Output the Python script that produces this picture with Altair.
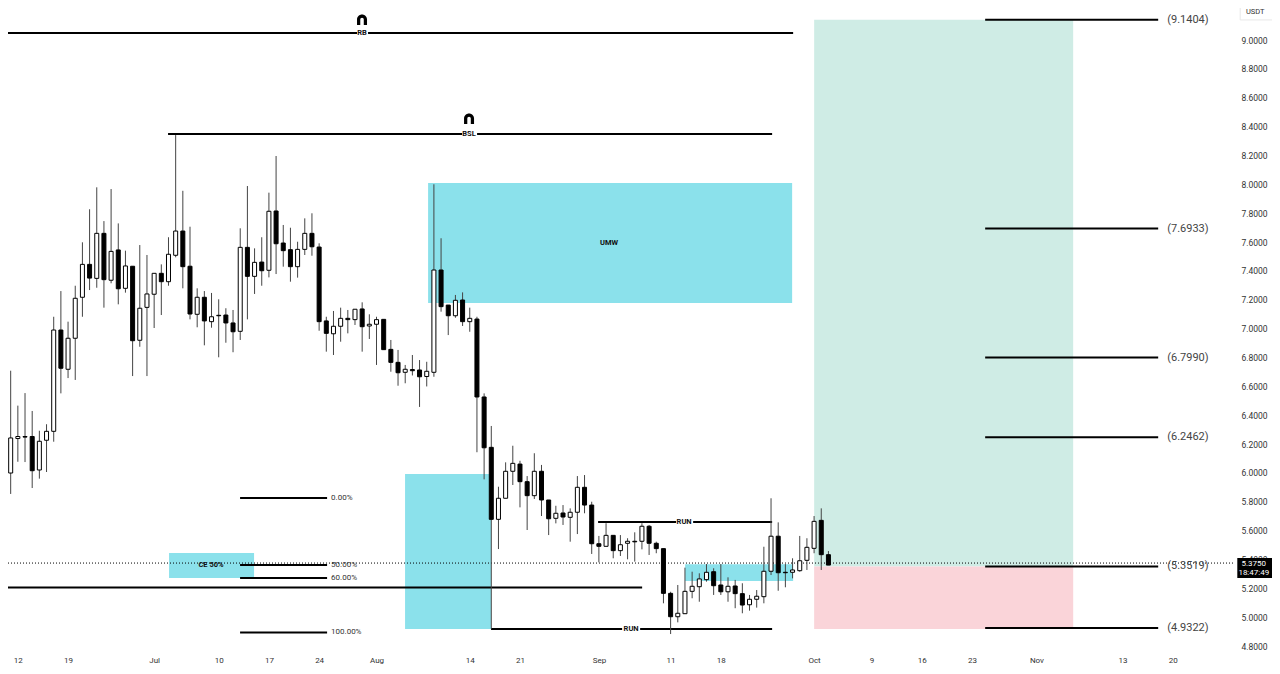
import altair as alt
import pandas as pd

opens = [7.441,5.999,6.238,6.252,6.252,6.020,6.226,6.288,6.990,6.718,6.933,7.217,7.445,7.348,7.660,7.335,7.545,7.279,7.432,6.919,7.147,7.238,7.383,7.325,7.508,7.676,7.432,7.099,7.217,7.048,7.092,7.094,7.039,6.981,7.563,7.362,7.461,7.404,7.815,7.593,7.547,7.429,7.549,7.660,7.565,7.053,6.964,7.016,7.071,7.062,7.136,7.018,7.030,7.064,6.856,6.766,6.697,6.716,6.713,6.668,6.697,7.406,7.163,7.089,7.198,7.048,7.066,6.526,6.177,5.678,5.824,6.011,6.061,5.939,5.842,6.011,5.812,5.685,5.722,5.692,5.727,5.900,5.777,5.509,5.491,5.567,5.461,5.512,5.526,5.526,5.630,5.512,5.475,5.165,5.003,5.024,5.179,5.211,5.260,5.315,5.223,5.176,5.216,5.163,5.086,5.124,5.142,5.318,5.561,5.311,5.311,5.322,5.394,5.477,5.671,5.433]
closes = [5.999,6.242,6.252,6.248,6.015,6.219,6.288,6.990,6.725,6.933,7.210,7.445,7.350,7.660,7.339,7.535,7.276,7.434,6.916,7.141,7.240,7.383,7.325,7.515,7.676,7.429,7.101,7.217,7.053,7.082,7.089,7.039,6.978,7.563,7.362,7.459,7.401,7.813,7.588,7.540,7.429,7.549,7.660,7.567,7.048,6.967,7.016,7.071,7.062,7.134,7.013,7.030,7.062,6.854,6.766,6.694,6.718,6.708,6.666,6.704,7.406,7.152,7.089,7.196,7.048,7.071,6.526,6.174,5.678,5.824,6.011,6.066,5.939,5.842,6.011,5.812,5.682,5.720,5.694,5.727,5.900,5.777,5.509,5.491,5.567,5.461,5.502,5.526,5.522,5.630,5.512,5.475,5.165,5.003,5.027,5.179,5.214,5.265,5.311,5.218,5.176,5.214,5.163,5.084,5.124,5.145,5.318,5.561,5.308,5.308,5.327,5.391,5.484,5.664,5.433,5.361]
highs = [7.441,6.708,6.466,6.553,6.429,6.292,6.337,7.082,7.260,7.048,7.297,7.598,7.827,7.979,7.745,7.967,7.729,7.540,7.432,7.579,7.510,7.383,7.445,7.633,8.341,7.955,7.706,7.279,7.260,7.247,7.203,7.141,7.129,7.695,7.988,7.556,7.633,7.942,8.196,7.718,7.699,7.602,7.764,7.799,7.591,7.082,7.122,7.145,7.129,7.134,7.182,7.099,7.082,7.064,6.921,6.852,6.748,6.817,6.782,6.770,8.000,7.626,7.163,7.233,7.251,7.145,7.082,6.551,6.325,5.904,6.073,6.188,6.084,5.978,6.136,6.055,5.812,5.772,5.777,5.754,5.978,5.985,5.800,5.563,5.651,5.567,5.569,5.547,5.588,5.651,5.639,5.523,5.475,5.176,5.223,5.343,5.315,5.304,5.368,5.339,5.368,5.276,5.258,5.235,5.154,5.188,5.488,5.824,5.657,5.368,5.408,5.563,5.547,5.701,5.754,5.458]
lows = [5.396,5.854,6.077,6.075,5.895,5.960,6.006,6.216,6.551,6.657,6.644,7.082,7.267,7.283,7.145,7.314,7.168,7.249,6.671,6.874,6.671,7.004,7.094,7.297,7.494,7.279,7.064,7.009,6.884,7.006,6.801,6.902,6.836,6.921,7.064,7.240,7.297,7.355,7.378,7.429,7.325,7.353,7.510,7.505,6.985,6.840,6.817,6.909,6.967,7.025,6.840,6.928,6.748,6.854,6.701,6.604,6.621,6.675,6.457,6.599,6.666,7.117,6.955,7.075,7.018,6.978,6.143,5.955,4.920,5.472,5.824,5.916,5.761,5.604,5.819,5.701,5.569,5.650,5.639,5.523,5.576,5.720,5.438,5.380,5.491,5.408,5.424,5.401,5.385,5.470,5.431,5.443,5.096,4.883,4.964,5.024,5.131,5.107,5.246,5.154,5.154,5.107,5.062,5.027,5.045,5.066,5.096,5.292,5.183,5.207,5.269,5.315,5.327,5.443,5.327,5.361]

tick_days = ["06-12","06-19","07-01","07-10","07-17","07-24","08-01","08-14","08-21","09-01","09-11","09-18","10-01","10-09","10-16","10-23","11-01","11-13","11-20"]
price_ticks = [4.8,5.0,5.2,5.4,5.6,5.8,6.0,6.2,6.4,6.6,6.8,7.0,7.2,7.4,7.6,7.8,8.0,8.2,8.4,8.6,8.8,9.0]

# zones: first bar, last bar, top price, bottom price, colour
zone_from = [113.01,113.01,59.19,55.98,23.08,95.02]
zone_to = [149.12,149.12,109.94,67.97,34.93,110.08]
zone_top = [9.1404,5.3519,8.009,5.992,5.445,5.366]
zone_bot = [5.3519,4.918,7.177,4.918,5.272,5.251]
zone_col = ["#cfece5","#fad4d9","#8be1eb","#8be1eb","#8be1eb","#8be1eb"]

# level lines: first bar, last bar, price
seg_from = [-0.49,50.82,22.94,66.02,-0.49,82.89,96.14,67.97,88.75,32.98,32.98,32.98,32.98,136.85,136.85,136.85,136.85,136.85,136.85]
seg_to = [49.29,110.08,63.93,107.15,89.03,93.77,107.15,86.24,107.15,45.11,45.11,45.11,45.11,160.97,160.97,160.97,160.97,160.97,160.97]
seg_price = [9.048,9.048,8.348,8.348,5.206,5.659,5.659,4.918,4.918,5.826,5.362,5.272,4.894,9.1404,7.6933,6.7990,6.2462,5.3519,4.925]

# centred bold labels
tag_text = ["RB","BSL","RUN","RUN","UMW","CE 50%"]
tag_bar = [49.98,64.9,94.88,87.49,84.43,28.93]
tag_price = [9.048,8.348,5.659,4.918,7.593,5.362]

fib_text = ["0.00%","50.00%","60.00%","100.00%"]
fib_price = [5.826,5.362,5.272,4.894]
fib_bar = [45.66]*4

target_text = ["(9.1404)","(7.6933)","(6.7990)","(6.2462)","(5.3519)","(4.9322)"]
target_price = [9.1404,7.6933,6.7990,6.2462,5.3519,4.925]
target_bar = [162.23]*6

magnet_bar = [49.98,64.9]
magnet_price = [9.139,8.453]

last_price = 5.375

DAY = 86400000
T0 = int(pd.Timestamp("2023-06-10", tz="UTC").value / 1_000_000)
def ms(i):
    return T0 + i * DAY

n = len(opens)
candles = pd.DataFrame({
    "t": [ms(i) for i in range(n)],
    "open": opens, "close": closes, "high": highs, "low": lows,
    "dir": ["up" if c >= o else "down" for o, c in zip(opens, closes)],
})
zones = pd.DataFrame({"a": [ms(v) for v in zone_from], "b": [ms(v) for v in zone_to],
                      "top": zone_top, "bot": zone_bot, "col": zone_col})
segs = pd.DataFrame({"a": [ms(v) for v in seg_from], "b": [ms(v) for v in seg_to], "p": seg_price})
tags = pd.DataFrame({"t": [ms(v) for v in tag_bar], "p": tag_price, "s": tag_text})
fibs = pd.DataFrame({"t": [ms(v) for v in fib_bar], "p": fib_price, "s": fib_text})
targets = pd.DataFrame({"t": [ms(v) for v in target_bar], "p": target_price, "s": target_text})
magnets = pd.DataFrame({"t": [ms(v) for v in magnet_bar], "p": magnet_price})

FONT = "Roboto"
tick_values = [int(pd.Timestamp("2023-" + d, tz="UTC").value / 1_000_000) for d in tick_days]
xscale = alt.Scale(type="utc", domain=[ms(0.627), ms(171.4)], nice=False, padding=0)
yscale = alt.Scale(domain=[4.7447, 9.2218], nice=False, zero=False)
x_axis = alt.Axis(
    values=tick_values, domain=False, ticks=False, grid=False, labelFont=FONT, labelFontSize=8,
    labelColor="#333333", labelPadding=2, labelOverlap=False, labelFlush=False,
    labelExpr="utcFormat(datum.value,'%d')=='01' ? utcFormat(datum.value,'%b') : utcFormat(datum.value,'%-d')")
y_axis = alt.Axis(
    orient="right", values=price_ticks, format=".4f", domain=False, ticks=False, grid=False,
    labelFont=FONT, labelFontSize=8.5, labelColor="#333333", labelPadding=8)

def XT(f):
    return alt.X(f, scale=xscale, title=None, axis=x_axis)
def YQ(f):
    return alt.Y(f, scale=yscale, title=None, axis=y_axis)

zone_layer = alt.Chart(zones).mark_rect().encode(
    x=XT("a:T"), x2="b:T", y=YQ("top:Q"), y2="bot:Q",
    color=alt.Color("col:N", scale=None))
seg_layer = alt.Chart(segs).mark_rule(color="#000000", strokeWidth=2).encode(
    x=XT("a:T"), x2="b:T", y=YQ("p:Q"))
price_line = alt.Chart(pd.DataFrame({"p": [last_price]})).mark_rule(
    color="#000000", strokeWidth=1, strokeDash=[1, 2]).encode(y=YQ("p:Q"))
wicks = alt.Chart(candles).mark_rule(color="#444444", strokeWidth=1).encode(
    x=XT("t:T"), y=YQ("low:Q"), y2="high:Q")
bodies = alt.Chart(candles).mark_bar(size=4, stroke="#000000", strokeWidth=1).encode(
    x=XT("t:T"), y=YQ("open:Q"), y2="close:Q",
    color=alt.Color("dir:N", scale=alt.Scale(domain=["up", "down"], range=["#ffffff", "#000000"]), legend=None))
tag_layer = alt.Chart(tags).mark_text(font=FONT, fontSize=7.5, fontWeight="bold", color="#111111", align="center", baseline="middle").encode(
    x=XT("t:T"), y=YQ("p:Q"), text="s:N")
fib_layer = alt.Chart(fibs).mark_text(font=FONT, fontSize=8, color="#333333", align="left", baseline="middle").encode(
    x=XT("t:T"), y=YQ("p:Q"), text="s:N")
target_layer = alt.Chart(targets).mark_text(font=FONT, fontSize=11, color="#444444", align="left", baseline="middle").encode(
    x=XT("t:T"), y=YQ("p:Q"), text="s:N")
MAGNET = "M-1,1 L-1,-0.1 A1,1 0 0 1 1,-0.1 L1,1 L0.35,1 L0.35,-0.1 A0.35,0.35 0 0 0 -0.35,-0.1 L-0.35,1 Z"
magnet_layer = alt.Chart(magnets).mark_point(shape=MAGNET, size=100, filled=True, color="#000000", opacity=1).encode(
    x=XT("t:T"), y=YQ("p:Q"))

tag_box = alt.Chart(pd.DataFrame({"a": [ms(172.0)], "b": [ms(177.4)], "top": [5.410], "bot": [5.272]})).mark_rect(color="#000000").encode(
    x=XT("a:T"), x2="b:T", y=YQ("top:Q"), y2="bot:Q")
tag_txt = alt.Chart(pd.DataFrame({"t": [ms(174.3), ms(174.3)], "p": [5.366, 5.308], "s": ["5.3750", "18:47:49"]})).mark_text(
    font=FONT, fontSize=8, color="#ffffff", align="center", baseline="middle").encode(
    x=XT("t:T"), y=YQ("p:Q"), text="s:N")
usdt_box = alt.Chart(pd.DataFrame({"a": [ms(172.4)], "b": [ms(177.4)], "top": [9.256], "bot": [9.139]})).mark_rect(
    fill="#ffffff", stroke="#e8e8e8", strokeWidth=1).encode(
    x=XT("a:T"), x2="b:T", y=YQ("top:Q"), y2="bot:Q")
usdt_txt = alt.Chart(pd.DataFrame({"t": [ms(174.5)], "p": [9.194], "s": ["USDT"]})).mark_text(
    font=FONT, fontSize=7.5, color="#333333", align="center", baseline="middle").encode(
    x=XT("t:T"), y=YQ("p:Q"), text="s:N")

chart = alt.layer(
    zone_layer, price_line, seg_layer, wicks, bodies, tag_layer, fib_layer, target_layer,
    magnet_layer, tag_box, tag_txt, usdt_box, usdt_txt
).properties(
    width=1225, height=646,
    autosize=alt.AutoSizeParams(type="none"),
    padding={"left": 0, "top": 0, "right": 39, "bottom": 12},
    background="#ffffff",
).configure_view(stroke=None)

chart.save("out.html", embed_options={"renderer": "svg", "actions": False})
